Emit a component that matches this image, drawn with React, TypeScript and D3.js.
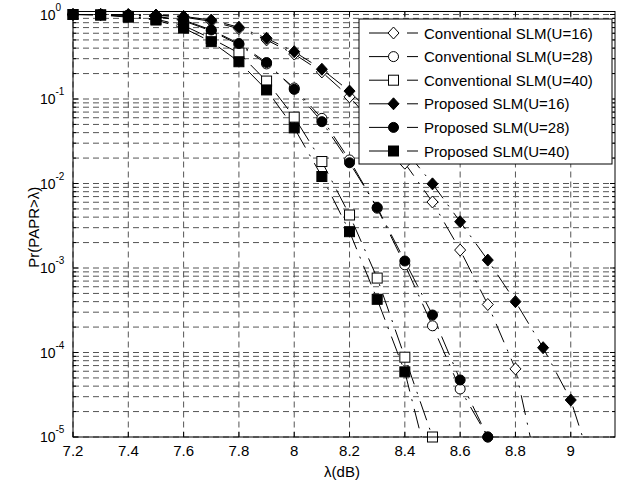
import React from "react";
import * as d3 from "d3";

// λ (dB) sample points
const lambda = [7.2, 7.3, 7.4, 7.5, 7.6, 7.7, 7.8, 7.9, 8.0, 8.1, 8.2, 8.3, 8.4, 8.5, 8.6, 8.7, 8.8, 8.9, 9.0, 9.1];

// Pr(PAPR > λ) (null = not simulated)
const convU16 = [1, 1, 0.995, 0.98, 0.93, 0.83, 0.68, 0.5, 0.34, 0.209, 0.106, 0.0457, 0.0174, 6.04e-3, 1.63e-3, 3.7e-4, 6.4e-5, 2e-6, null, null];
const convU28 = [1, 1, 0.98, 0.94, 0.84, 0.64, 0.44, 0.26, 0.135, 0.059, 0.019, 5.1e-3, 1.09e-3, 2.07e-4, 3.7e-5, 1e-5, null, null, null, null];
const convU40 = [1, 0.99, 0.95, 0.88, 0.74, 0.52, 0.35, 0.163, 0.061, 0.0182, 4.24e-3, 7.6e-4, 8.8e-5, 1e-5, null, null, null, null, null, null];
const propU16 = [1, 1, 0.995, 0.985, 0.95, 0.86, 0.706, 0.523, 0.363, 0.225, 0.124, 0.0575, 0.025, 9.9e-3, 3.53e-3, 1.24e-3, 4.0e-4, 1.14e-4, 2.74e-5, 2.6e-6];
const propU28 = [1, 1, 0.985, 0.95, 0.86, 0.656, 0.454, 0.27, 0.13, 0.0539, 0.0176, 5.2e-3, 1.21e-3, 2.78e-4, 4.73e-5, 1e-5, null, null, null, null];
const propU40 = [1, 0.985, 0.93, 0.86, 0.69, 0.477, 0.276, 0.128, 0.0455, 0.0121, 2.69e-3, 4.26e-4, 5.9e-5, 3e-6, null, null, null, null, null, null];

const seriesNames = [
  "Conventional SLM(U=16)",
  "Conventional SLM(U=28)",
  "Conventional SLM(U=40)",
  "Proposed SLM(U=16)",
  "Proposed SLM(U=28)",
  "Proposed SLM(U=40)",
];
const seriesValues = [convU16, convU28, convU40, propU16, propU28, propU40];
const seriesMarkers = ["diamond", "circle", "square", "diamond", "circle", "square"];
const seriesFilled = [false, false, false, true, true, true];

const xTicks = [7.2, 7.4, 7.6, 7.8, 8, 8.2, 8.4, 8.6, 8.8, 9];
const yDecades = [-5, -4, -3, -2, -1, 0];

const W = 622;
const H = 488;
const left = 73;
const right = 615;
const bottom = 437;
const top = 11.5;

const FONT = "Arial, 'Liberation Sans', Helvetica, sans-serif";
const LINE_DASH = "20,8,2,8";
const GRID_DASH = "6,4";
const GRID_COLOR = "#555";

function Marker({ type, filled, x, y }: { type: string; filled: boolean; x: number; y: number }) {
  const fill = filled ? "#000" : "#fff";
  if (type === "circle") return <circle cx={x} cy={y} r={5} fill={fill} stroke="#000" strokeWidth={1} />;
  if (type === "square") return <rect x={x - 5} y={y - 5} width={10} height={10} fill={fill} stroke="#000" strokeWidth={1} />;
  const d = `M${x},${y - 6}L${x + 5.5},${y}L${x},${y + 6}L${x - 5.5},${y}Z`;
  return <path d={d} fill={fill} stroke="#000" strokeWidth={1} />;
}

export default function App() {
  const x = d3.scaleLinear().domain([7.2, 9.16]).range([left, right]);
  // 10^0 sits a little below the top frame
  const y = d3.scaleLog().domain([1e-5, 1]).range([bottom, 14.5]);

  const line = d3
    .line<[number, number]>()
    .x((d) => x(d[0]))
    .y((d) => y(d[1]));

  const minor: number[] = [];
  for (let e = -5; e < 0; e++) for (let m = 2; m <= 9; m++) minor.push(m * Math.pow(10, e));
  const majors = yDecades.map((e) => Math.pow(10, e));

  const legX = 359;
  const legY = 19;
  const legW = 253;
  const legH = 145;
  const rowH = 23.6;

  return (
    <svg width={W} height={H} style={{ position: "absolute", left: 0, top: 0, background: "#fff" }} fontFamily={FONT}>
      <rect x={0} y={0} width={W} height={H} fill="#fff" />
      <defs>
        <clipPath id="plotClip">
          <rect x={left} y={top} width={right - left} height={bottom - top} />
        </clipPath>
      </defs>

      {/* grid */}
      <g stroke={GRID_COLOR} strokeWidth={1} strokeDasharray={GRID_DASH} fill="none">
        {xTicks.map((t) => (
          <line key={"gx" + t} x1={x(t)} x2={x(t)} y1={top} y2={bottom} />
        ))}
        {[...majors, ...minor].map((v, i) => (
          <line key={"gy" + i} x1={left} x2={right} y1={y(v)} y2={y(v)} />
        ))}
      </g>

      {/* curves */}
      <g clipPath="url(#plotClip)">
        {seriesValues.map((vals, si) => {
          const pts = lambda
            .map((l, i) => [l, vals[i]] as [number, number | null])
            .filter((p) => p[1] != null) as [number, number][];
          return (
            <path key={"l" + si} d={line(pts) ?? ""} fill="none" stroke="#000" strokeWidth={1} strokeDasharray={LINE_DASH} />
          );
        })}
      </g>
      {seriesValues.map((vals, si) => (
        <g key={"m" + si}>
          {lambda.map((l, i) => {
            const v = vals[i];
            if (v == null || v < 0.99e-5) return null;
            return <Marker key={i} type={seriesMarkers[si]} filled={seriesFilled[si]} x={x(l)} y={y(v)} />;
          })}
        </g>
      ))}

      {/* frame and ticks */}
      <rect x={left} y={top} width={right - left} height={bottom - top} fill="none" stroke="#000" strokeWidth={1} />
      <g stroke="#000" strokeWidth={1}>
        {xTicks.map((t) => (
          <g key={"tx" + t}>
            <line x1={x(t)} x2={x(t)} y1={bottom} y2={bottom - 5} />
            <line x1={x(t)} x2={x(t)} y1={top} y2={top + 5} />
          </g>
        ))}
        {majors.map((v, i) => (
          <g key={"ty" + i}>
            <line x1={left} x2={left + 5} y1={y(v)} y2={y(v)} />
            <line x1={right} x2={right - 5} y1={y(v)} y2={y(v)} />
          </g>
        ))}
        {minor.map((v, i) => (
          <g key={"tm" + i}>
            <line x1={left} x2={left + 3} y1={y(v)} y2={y(v)} />
            <line x1={right} x2={right - 3} y1={y(v)} y2={y(v)} />
          </g>
        ))}
      </g>

      {/* tick labels */}
      <g fontSize={15} fill="#000">
        {xTicks.map((t) => (
          <text key={"lx" + t} x={x(t)} y={456} textAnchor="middle">
            {d3.format("")(t)}
          </text>
        ))}
        {yDecades.map((e) => (
          <text key={"ly" + e} x={55.5} y={y(Math.pow(10, e)) + 5} textAnchor="end" fontSize={14}>
            10
          </text>
        ))}
        {yDecades.map((e) => (
          <text key={"le" + e} x={55.5} y={y(Math.pow(10, e)) - 4} fontSize={10}>
            {e === 0 ? "0" : "-" + Math.abs(e)}
          </text>
        ))}
      </g>

      {/* axis titles */}
      <text x={342} y={477} fontSize={15} textAnchor="middle">
        λ(dB)
      </text>
      <text transform={`translate(39,${(top + bottom) / 2 + 3}) rotate(-90)`} fontSize={15} textAnchor="middle">
        Pr(PAPR&gt;λ)
      </text>

      {/* legend */}
      <g>
        <rect x={legX} y={legY} width={legW} height={legH} fill="#fff" stroke="#000" strokeWidth={1} />
        {seriesNames.map((name, i) => {
          const cy = legY + 14 + i * rowH;
          return (
            <g key={"leg" + i}>
              <line x1={369} x2={418} y1={cy} y2={cy} stroke="#000" strokeWidth={1} strokeDasharray={LINE_DASH} />
              <Marker type={seriesMarkers[i]} filled={seriesFilled[i]} x={393.5} y={cy} />
              <text x={424} y={cy + 5.5} fontSize={15}>
                {name}
              </text>
            </g>
          );
        })}
      </g>
    </svg>
  );
}
